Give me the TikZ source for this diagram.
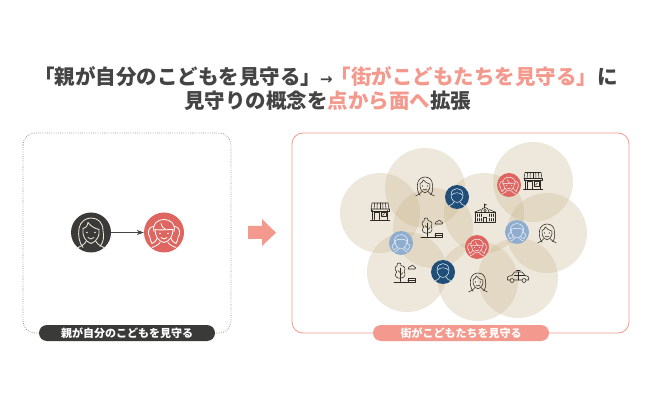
\documentclass[tikz,border=0pt]{standalone}
\usepackage{fontspec}
\setmainfont{Noto Sans CJK JP}
\newfontfamily\arrowfont{DejaVu Sans}
\usetikzlibrary{arrows.meta}
\definecolor{inkdark}{HTML}{3A3A38}
\definecolor{titledark}{HTML}{444444}
\definecolor{salmon}{HTML}{F4998D}
\definecolor{childred}{HTML}{DE6560}
\definecolor{navyblue}{HTML}{1F4E79}
\definecolor{paleblue}{HTML}{8FADCF}
\definecolor{zoneb}{HTML}{C9B48C}
\definecolor{iconink}{HTML}{2D2A26}
\definecolor{cream}{HTML}{EFE8DA}
\tikzset{
  x=1pt,y=-1pt,
  zone/.style={circle,fill=zoneb,fill opacity=.3,minimum size=80pt,inner sep=0pt,draw=none},
  bigface/.style={circle,minimum size=40pt,inner sep=0pt,draw=none},
  smallface/.style={circle,minimum size=24pt,inner sep=0pt,draw=none},
  pill/.style={rounded corners=8pt,minimum width=176pt,minimum height=16pt,inner sep=0pt,text=white,font=\fontsize{11}{11}\selectfont\bfseries},
  titletext/.style={anchor=center,font=\fontsize{20.5}{20.5}\selectfont\bfseries,text=titledark,inner sep=0pt},
  linework/.style={line width=.55pt,color=iconink,line cap=round,line join=round},
  onbig/.style={line width=.85pt,line cap=round,line join=round},
  onsmall/.style={scale=.6,line width=.5pt,color=white!88!paleblue,line cap=round,line join=round},
  pics/woman/.style={code={
    \draw (-8,15) .. controls (-12,10) and (-13,3) .. (-12,-4) .. controls (-11,-11) and (-5,-14.5) .. (0,-14.5) .. controls (7,-14.5) and (12,-10) .. (12,-2) .. controls (13,4) and (13,9) .. (9,14);
    \draw (-8,-4) .. controls (-9,3) and (-6,9) .. (0,11) .. controls (6,9) and (9,3) .. (8,-3);
    \draw (-8,-4) .. controls (-4,-5) and (-3,-8) .. (-3,-10) .. controls (0,-6) and (4,-4) .. (8,-3);
    \fill (-4,0) circle (.9) (4,0) circle (.9);
    \draw (-3,5) .. controls (-1,7) and (1,7) .. (3,5);
    \draw (-5,9) .. controls (-6,12) and (-11,14) .. (-15,16);
    \draw (5,9) .. controls (6,12) and (11,14) .. (15,16);
  }},
  pics/girl/.style={code={
    \draw (-10,-1) .. controls (-12,-9) and (-6,-13) .. (0,-13) .. controls (6,-13) and (12,-9) .. (10,-1);
    \draw (-9,-3) .. controls (-4,-2) and (3,-3) .. (9,-3);
    \draw (-3,-9) .. controls (-2,-5) and (0,-4) .. (2,-3);
    \draw (-9,-3) .. controls (-9,3) and (-6,9) .. (0,10) .. controls (6,9) and (9,3) .. (9,-3);
    \draw (-10,-6) .. controls (-16,-7) and (-17,2) .. (-14,5) .. controls (-13,7) and (-14,9) .. (-12,11) .. controls (-9,10) and (-8,8) .. (-7,6);
    \draw (10,-6) .. controls (16,-7) and (17,2) .. (14,5) .. controls (13,7) and (14,9) .. (12,11) .. controls (9,10) and (8,8) .. (7,6);
    \fill (-4,1) circle (.9) (4,1) circle (.9);
    \draw (-3,5) .. controls (-1,7) and (1,7) .. (3,5);
    \draw (-4,10) .. controls (-5,12) and (-9,14) .. (-12,15);
    \draw (4,10) .. controls (5,12) and (9,14) .. (12,15);
  }},
  pics/boy/.style={code={
    \draw (-10,-3) .. controls (-10,-11) and (-5,-14) .. (0,-14) .. controls (5,-14) and (10,-11) .. (10,-3) .. controls (10,4) and (5,9) .. (0,9) .. controls (-5,9) and (-10,4) .. (-10,-3);
    \draw (-10,-3) .. controls (-6,-6) and (-3,-7) .. (0,-7) .. controls (3,-7) and (6,-6) .. (10,-3);
    \draw (-5,8) .. controls (-5,12) and (-10,13) .. (-14,15);
    \draw (5,8) .. controls (5,12) and (10,13) .. (14,15);
  }},
  pics/kid/.style={code={
    \draw (-11,1) .. controls (-13,-9) and (-6,-14) .. (0,-14) .. controls (6,-14) and (13,-9) .. (11,1);
    \draw (-10,-4) .. controls (-5,-7) and (5,-7) .. (10,-4);
    \draw (-10,-4) .. controls (-10,4) and (-6,9) .. (0,10) .. controls (6,9) and (10,4) .. (10,-4);
    \draw (-11,1) .. controls (-16,3) and (-16,9) .. (-12,11) .. controls (-9,11) and (-7,9) .. (-6,7);
    \draw (11,1) .. controls (16,3) and (16,9) .. (12,11) .. controls (9,11) and (7,9) .. (6,7);
    \draw (-4,10) .. controls (-5,13) and (-8,14) .. (-11,15);
    \draw (4,10) .. controls (5,13) and (8,14) .. (11,15);
  }},
  pics/shop/.style={code={
    \draw (-8,-9.5) -- (8,-9.5) -- (9,-3.5) -- (-9,-3.5) -- cycle;
    \foreach \s in {-6,-3,0,3,6} {\draw (\s*.9,-9.5) -- (\s,-3.5);}
    \draw (-9,-3.5) -- (-9,-1.5) -- (9,-1.5) -- (9,-3.5) (-7.5,-2) -- (-7.5,7) (7.5,-2) -- (7.5,7);
    \draw (-5.5,7) -- (-5.5,-.5) -- (-1,-.5) -- (-1,7);
    \draw (1,-.5) rectangle (6,4);
    \draw (2.5,3) -- (4.5,1);
    \draw[line width=1pt] (-9.5,8) -- (9.5,8);
  }},
  pics/park/.style={code={
    \draw (-8,-1) .. controls (-11,-3) and (-10,-7) .. (-8,-7) .. controls (-9,-11) and (-3,-11) .. (-4,-7.5) .. controls (0,-7) and (1,-4) .. (-1,-2) .. controls (1,1) and (0,5) .. (-4,5) .. controls (-8,6) and (-11,3) .. (-9,0) -- cycle;
    \draw (-4.5,-5) -- (-4.5,8.5) (-4.5,0) -- (-7,-2.5) (-4.5,2) -- (-2,-.5);
    \draw[line width=.9pt] (-11,9) -- (10,9);
    \draw (3,5.5) rectangle (10,9) (3,7) -- (10,7);
    \draw (3,-4) .. controls (3,-7) and (5,-6) .. (5.5,-6.5) .. controls (6,-9) and (9,-8) .. (9,-6.5) .. controls (11,-6.5) and (11,-4) .. (10,-4) -- cycle;
  }},
  pics/school/.style={code={
    \draw (-.5,-9) -- (-.5,-5) ;
    \fill (-.5,-9) -- (2.2,-8.2) -- (-.5,-7.4) -- cycle;
    \draw (-4,-1) .. controls (-3.5,-4) and (-2,-5.5) .. (0,-5.5) .. controls (2,-5.5) and (3.5,-4) .. (4,-1);
    \draw (-10,-1) -- (-4,-3.5) (10,-1) -- (4,-3.5);
    \draw (-10,-1) -- (10,-1) (-10,-1) -- (-10,9) (10,-1) -- (10,9);
    \draw (0,-2.5) circle (1.2);
    \draw (-1.5,9) -- (-1.5,4) -- (1.5,4) -- (1.5,9);
    \foreach \s in {-8,-6,-4,4,6,8} {\draw (\s,1) -- (\s,3.5) (\s,5.5) -- (\s,8);}
    \draw[line width=.9pt] (-10.5,9) -- (10.5,9);
  }},
  pics/taxi/.style={code={
    \draw (-10.5,4) .. controls (-11.5,1) and (-10,0) .. (-6,-.5) -- (-3.5,-4) -- (4,-4) -- (7,-.5) .. controls (10,0) and (11.5,1) .. (10.5,4) -- (8,4) (4,4) -- (-4,4) (-8,4) -- (-10.5,4);
    \draw (-3.5,-.5) -- (7,-.5) (.5,-4) -- (.5,4);
    \draw[line width=1pt] (-1.5,-5.8) -- (2,-5.8);
    \draw (-6,4.5) circle (2) (6,4.5) circle (2);
  }},
}
\begin{document}
\begin{tikzpicture}
\useasboundingbox[fill=white] (0,0) rectangle (650,403);
% title
\node[titletext] (titleone) at (326,76.5) {「親が自分のこどもを見守る」\hspace{-1pt}{\arrowfont\fontsize{15}{15}\selectfont →}\hspace{-2pt}\textcolor{salmon}{「街がこどもたちを見守る」}に};
\node[titletext] (titletwo) at (327.5,101) {見守りの概念を\textcolor{salmon}{点から面へ}拡張};
% panels
\draw[gray!85,line width=.8pt,dash pattern=on .8pt off 1.4pt,rounded corners=12pt] (23,133) rectangle (231,333);
\draw[salmon,line width=.8pt,rounded corners=11pt] (292,133) rectangle (629,333);
\node[pill,fill=inkdark] (leftpill) at (127,333) {親が自分のこどもを見守る};
\node[pill,fill=salmon] (rightpill) at (461,333) {街がこどもたちを見守る};
% left
\node[bigface,fill=inkdark] (parent) at (91,232.5) {};
\node[bigface,fill=childred] (child) at (164,232.5) {};
\pic[onbig,color=cream] at (parent) {woman};
\pic[onbig,color=white!90!cream] at (child) {girl};
\draw[-{Stealth[length=7pt,width=5pt]},titledark,line width=.7pt] (parent) -- (child);
% big arrow
\fill[salmon] (248,226) -- (262,226) -- (262,219) -- (276,232.7) -- (262,246) -- (262,239) -- (248,239) -- cycle;
% zones
\foreach \n/\p in {za/{380,213},zb/{425,188},zc/{433,228},zd/{533,182},ze/{547,233},zf/{484,213},zg/{407,272},zh/{478,281},zi/{518,278}} {
  \node[zone] (\n) at (\p) {};
}
% people
\node[smallface,fill=navyblue] (na) at (457,197) {};
\node[smallface,fill=navyblue] (nb) at (443,272) {};
\node[smallface,fill=childred] (ra) at (509,185) {};
\node[smallface,fill=childred] (rb) at (477,247) {};
\node[smallface,fill=paleblue] (ba) at (517,232) {};
\node[smallface,fill=paleblue] (bb) at (401,243) {};
\pic[onsmall] at (na) {boy};
\pic[onsmall] at (nb) {boy};
\pic[onsmall] at (ra) {girl};
\pic[onsmall] at (rb) {girl};
\pic[onsmall] at (ba) {kid};
\pic[onsmall] at (bb) {kid};
\pic[linework,scale=.62] at (425,186) {woman};
\pic[linework,scale=.62] at (547,233) {woman};
\pic[linework,scale=.62] at (478,282) {woman};
\pic[linework] at (380,212.5) {shop};
\pic[linework] at (533,182) {shop};
\pic[linework] at (432,228) {park};
\pic[linework] at (405,273) {park};
\pic[linework] at (485,213) {school};
\pic[linework] at (518,276) {taxi};
\end{tikzpicture}
\end{document}
